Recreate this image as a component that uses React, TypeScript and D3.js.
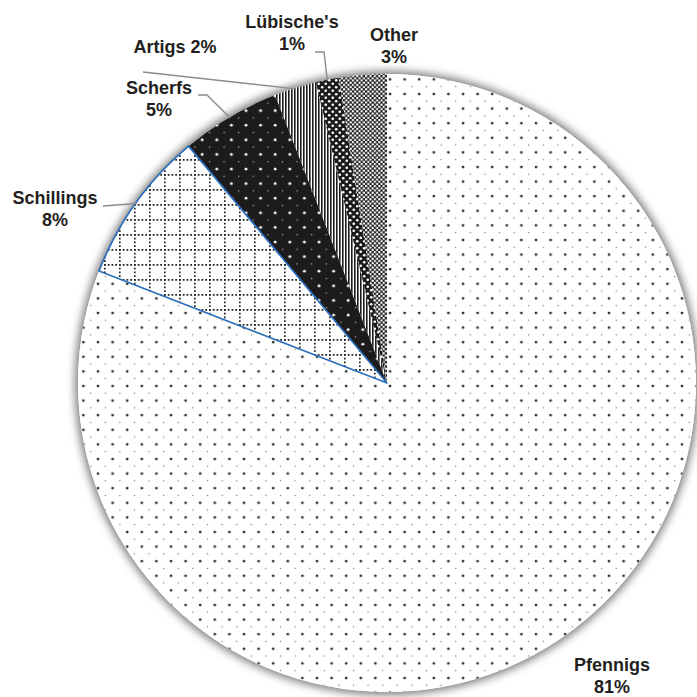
import React, { useEffect } from "react";
import * as d3 from "d3";

const categories = ["Pfennigs", "Schillings", "Scherfs", "Artigs", "Lübische's", "Other"];
const shares = [80.9, 8.0, 5.2, 2.2, 1.2, 2.5];
const percentLabels = ["81%", "8%", "5%", "2%", "1%", "3%"];
const patternIds = ["pPfen", "pSchil", "pScher", "pArt", "pLub", "pOth"];

const W = 697;
const H = 697;
const CX = 387;
const CY = 383;
const R = 309;

// label layout (text anchor positions, lines)
const labelLayout: { lines: string[]; x: number; y: number }[] = [
  { lines: ["Pfennigs", "81%"], x: 612, y: 671 },
  { lines: ["Schillings", "8%"], x: 55, y: 204 },
  { lines: ["Scherfs", "5%"], x: 159, y: 94 },
  { lines: ["Artigs 2%"], x: 175, y: 53 },
  { lines: ["Lübische's", "1%"], x: 292, y: 28 },
  { lines: ["Other", "3%"], x: 394, y: 41 },
];
// leader line starting points (null = no leader)
const leaderStarts: ([number, number][] | null)[] = [
  null,
  [[103, 206]],
  [[198, 95], [207, 95]],
  [[143, 72]],
  [[315, 52], [324, 52]],
  null,
];

export default function App() {
  useEffect(() => {
    document.body.style.margin = "0";
  }, []);

  const pie = d3.pie<number>().sort(null).value((d) => d).startAngle(0).endAngle(2 * Math.PI);
  const arcs = pie(shares);
  const arcGen = d3.arc<d3.PieArcDatum<number>>().innerRadius(0).outerRadius(R);

  const labelText = (i: number) => {
    const l = labelLayout[i];
    return l.lines.map((t, k) => (
      <text
        key={k}
        x={l.x}
        y={l.y + k * 22}
        textAnchor="middle"
        fontFamily="'Liberation Sans', Arial, sans-serif"
        fontWeight="bold"
        fontSize={18}
        fill="#231f20"
      >
        {t}
      </text>
    ));
  };

  return (
    <svg width={W} height={H} style={{ position: "absolute", left: 0, top: 0, background: "#fff" }}>
      <defs>
        <filter id="shadow" x="-10%" y="-10%" width="120%" height="120%">
          <feGaussianBlur stdDeviation="4" />
        </filter>
        <pattern id="pPfen" patternUnits="userSpaceOnUse" width={14.6} height={14.6}>
          <rect width={14.6} height={14.6} fill="#fff" />
          <circle cx={3} cy={3} r={1.4} fill="#2e2e2e" />
          <circle cx={10.3} cy={10.3} r={0.7} fill="#777" />
        </pattern>
        <pattern id="pSchil" patternUnits="userSpaceOnUse" width={15} height={15} x={2} y={1}>
          <rect width={15} height={15} fill="#fff" />
          <line x1={0.8} y1={0} x2={0.8} y2={15} stroke="#222" strokeWidth={1.7} strokeDasharray="1.8 1.95" />
          <line x1={0} y1={0.8} x2={15} y2={0.8} stroke="#222" strokeWidth={1.7} strokeDasharray="1.8 1.95" />
        </pattern>
        <pattern id="pScher" patternUnits="userSpaceOnUse" width={14.6} height={14.6}>
          <rect width={14.6} height={14.6} fill="#1e1b1c" />
          <circle cx={5} cy={5} r={1.4} fill="#fff" />
          <circle cx={12.3} cy={12.3} r={0.7} fill="#ccc" />
        </pattern>
        <pattern id="pArt" patternUnits="userSpaceOnUse" width={3} height={3}>
          <rect width={3} height={3} fill="#fff" />
          <rect width={1.6} height={3} fill="#1e1b1c" />
        </pattern>
        <pattern id="pLub" patternUnits="userSpaceOnUse" width={7} height={7}>
          <rect width={7} height={7} fill="#1e1b1c" />
          <circle cx={1.75} cy={1.75} r={1.3} fill="#fff" />
          <circle cx={5.25} cy={5.25} r={1.3} fill="#fff" />
        </pattern>
        <pattern id="pOth" patternUnits="userSpaceOnUse" width={4.4} height={4.4}>
          <rect width={4.4} height={4.4} fill="#1e1b1c" />
          <circle cx={1.1} cy={1.1} r={1.2} fill="#fff" />
          <circle cx={3.3} cy={3.3} r={1.2} fill="#fff" />
        </pattern>
      </defs>

      <circle cx={CX} cy={CY} r={R + 3} fill="#7d7d7d" filter="url(#shadow)" />
      <circle cx={CX} cy={CY} r={R} fill="#fff" />

      <g transform={`translate(${CX},${CY})`}>
        {arcs.map((a, i) => (
          <path key={categories[i]} d={arcGen(a) || ""} fill={`url(#${patternIds[i]})`} />
        ))}
        <path d={arcGen(arcs[1]) || ""} fill="none" stroke="#2a6ebb" strokeWidth={1.7} strokeLinejoin="round" />
      </g>

      {arcs.map((a, i) => {
        const starts = leaderStarts[i];
        if (!starts) return null;
        const mid = (a.startAngle + a.endAngle) / 2;
        const ex = CX + Math.sin(mid) * (R - 1);
        const ey = CY - Math.cos(mid) * (R - 1);
        const pts = [...starts, [ex, ey]] as [number, number][];
        return (
          <path
            key={"l" + i}
            d={d3.line()(pts) || ""}
            fill="none"
            stroke="#8c8c8c"
            strokeWidth={1.4}
          />
        );
      })}

      {categories.map((c, i) => (
        <g key={"t" + c}>{labelText(i)}</g>
      ))}
    </svg>
  );
}
